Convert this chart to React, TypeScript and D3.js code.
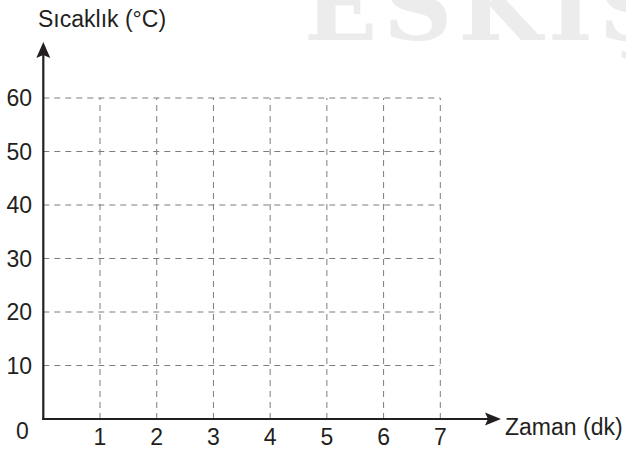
import { scaleLinear } from "d3";

// axis ticks and labels
const xTicks = [1, 2, 3, 4, 5, 6, 7];
const yTicks = [10, 20, 30, 40, 50, 60];
const xLabel = "Zaman (dk)";
const yLabel = "Sıcaklık (°C)";
const originLabel = "0";
const watermark = "ESKİŞ";

const W = 626;
const H = 449;
const ink = "#231f20";
const gridColor = "#7d7d7d";
const font = "'Liberation Sans', Arial, sans-serif";

export default function App() {
  const x = scaleLinear().domain([0, 7]).range([43.3, 440.3]);
  const y = scaleLinear().domain([0, 60]).range([419, 98]);

  const x0 = x(0);
  const y0 = y(0);
  const yTop = y(60);
  const xRight = x(7);

  // arrow tips
  const yTip = 42;
  const xTip = 501;

  return (
    <div style={{ position: "fixed", left: 0, top: 0, background: "#fff" }}>
      <svg width={W} height={H} viewBox={`0 0 ${W} ${H}`} style={{ display: "block" }}>
        <rect width={W} height={H} fill="#fff" />

        {/* Watermark */}
        <text
          x={304}
          y={40}
          fill="#ececec"
          fontFamily="'DejaVu Serif', serif"
          fontWeight="bold"
          fontSize={96}
          letterSpacing={6}
        >
          {watermark}
        </text>

        {/* Grid lines */}
        {yTicks.map((t) => (
          <line
            key={"h" + t}
            x1={x0}
            x2={xRight}
            y1={y(t)}
            y2={y(t)}
            stroke={gridColor}
            strokeWidth={1}
            strokeDasharray="6,5"
          />
        ))}
        {xTicks.map((t) => (
          <line
            key={"v" + t}
            x1={x(t)}
            x2={x(t)}
            y1={y0}
            y2={yTop}
            stroke={gridColor}
            strokeWidth={1}
            strokeDasharray="6,5"
          />
        ))}

        {/* Axes */}
        <line x1={x0} x2={x0} y1={y0 + 1} y2={yTip + 10} stroke={ink} strokeWidth={2.2} />
        <line x1={x0 - 1} x2={xTip - 10} y1={y0} y2={y0} stroke={ink} strokeWidth={2.2} />
        <path
          d={`M${x0},${yTip} L${x0 - 7},${yTip + 16} L${x0},${yTip + 13} L${x0 + 7},${yTip + 16} Z`}
          fill={ink}
        />
        <path
          d={`M${xTip},${y0} L${xTip - 16},${y0 - 6.5} L${xTip - 13},${y0} L${xTip - 16},${y0 + 6.5} Z`}
          fill={ink}
        />

        {/* Y tick labels */}
        {yTicks.map((t) => (
          <text
            key={"yl" + t}
            x={32}
            y={y(t)}
            dy="0.35em"
            textAnchor="end"
            fontFamily={font}
            fontSize={23}
            fill={ink}
          >
            {t}
          </text>
        ))}
        <text x={x0 - 21} y={y0 + 12} dy="0.35em" textAnchor="middle" fontFamily={font} fontSize={23} fill={ink}>
          {originLabel}
        </text>

        {/* X tick labels */}
        {xTicks.map((t) => (
          <text
            key={"xl" + t}
            x={x(t)}
            y={445}
            textAnchor="middle"
            fontFamily={font}
            fontSize={23}
            fill={ink}
          >
            {t}
          </text>
        ))}

        {/* Axis titles */}
        <text x={38} y={27} fontFamily={font} fontSize={23} fill={ink}>
          {yLabel}
        </text>
        <text x={505} y={y0 + 8} dy="0.35em" fontFamily={font} fontSize={23} fill={ink}>
          {xLabel}
        </text>
      </svg>
    </div>
  );
}
